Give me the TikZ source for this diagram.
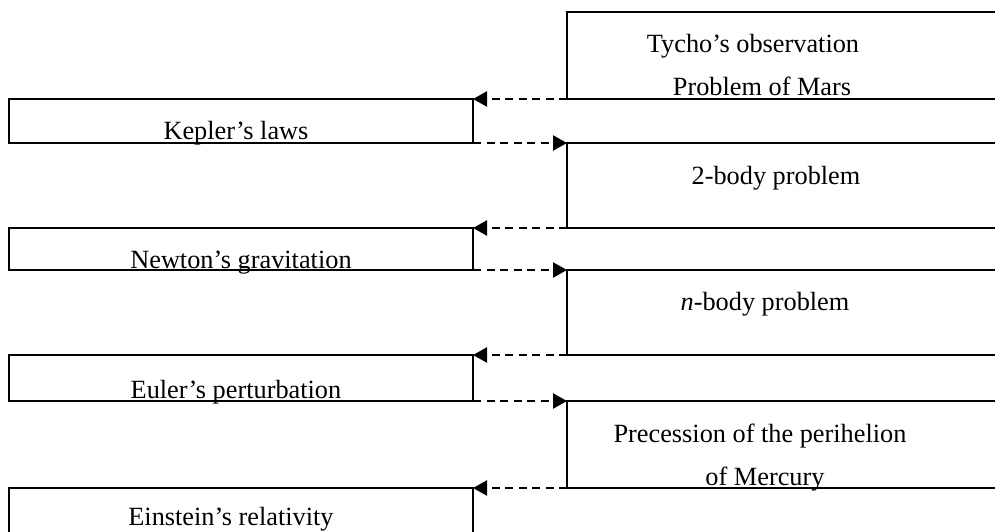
\documentclass[tikz,border=0pt]{standalone}
\usepackage{fontspec}
\setmainfont{Liberation Serif}
\usetikzlibrary{arrows.meta}
\begin{document}
\begin{tikzpicture}[x=1pt,y=-1pt,
  boxline/.style={draw,line width=2.6pt,rectangle,inner sep=0pt,outer sep=0pt,anchor=north west},
  lefttxt/.style={anchor=base,inner sep=0pt,font=\fontsize{26.3}{30}\selectfont},
  dasharrow/.style={line width=2.2pt,dash pattern=on 8pt off 5.5pt,-{Triangle[length=14pt,width=15pt]}}]
\useasboundingbox (0,0) rectangle (995,531);
\clip (0,0) rectangle (995,531);
% left boxes
\node[boxline,minimum width=464pt,minimum height=44pt] (kepler) at (9,99) {};
\node[boxline,minimum width=464pt,minimum height=42pt] (newton) at (9,228) {};
\node[boxline,minimum width=464pt,minimum height=46pt] (euler) at (9,355) {};
\node[boxline,minimum width=464pt,minimum height=80pt] (einstein) at (9,488) {};
% right boxes (open to the right edge)
\node[boxline,minimum width=460pt,minimum height=87pt] (tycho) at (567,12) {};
\node[boxline,minimum width=460pt,minimum height=85pt] (two) at (567,143) {};
\node[boxline,minimum width=460pt,minimum height=85pt] (nbody) at (567,270) {};
\node[boxline,minimum width=460pt,minimum height=87pt] (prec) at (567,401) {};
% texts
\node[lefttxt] (tkepler) at (236,139) {Kepler’s laws};
\node[lefttxt] (tnewton) at (241,268) {Newton’s gravitation};
\node[lefttxt] (teuler) at (236,398) {Euler’s perturbation};
\node[lefttxt] (teinstein) at (231,525) {Einstein’s relativity};
\node[lefttxt] (ttychoa) at (753,52) {Tycho’s observation};
\node[lefttxt] (ttychob) at (762,95) {Problem of Mars};
\node[lefttxt] (ttwo) at (776,184) {2-body problem};
\node[lefttxt] (tnbody) at (765,310) {\textit{n}-body problem};
\node[lefttxt] (tpreca) at (760,442) {Precession of the perihelion};
\node[lefttxt] (tprecb) at (765,485) {of Mercury};
% connectors
\draw[dasharrow] (tycho.south west) -- (kepler.north east);
\draw[dasharrow] (kepler.south east) -- (two.north west);
\draw[dasharrow] (two.south west) -- (newton.north east);
\draw[dasharrow] (newton.south east) -- (nbody.north west);
\draw[dasharrow] (nbody.south west) -- (euler.north east);
\draw[dasharrow] (euler.south east) -- (prec.north west);
\draw[dasharrow] (prec.south west) -- (einstein.north east);
\end{tikzpicture}
\end{document}
